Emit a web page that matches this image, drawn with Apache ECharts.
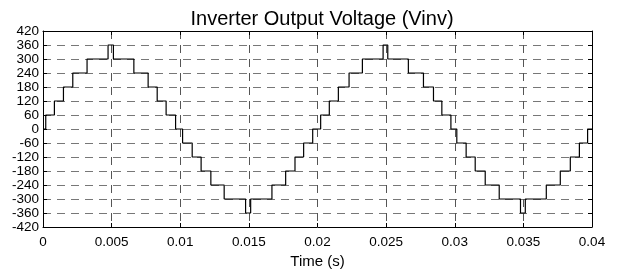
<!DOCTYPE html>
<html>
<head>
<meta charset="utf-8">
<script src="https://cdn.jsdelivr.net/npm/echarts@6/dist/echarts.min.js"></script>
<style>
  html, body { margin: 0; padding: 0; background: #fff; }
  #chart { width: 617px; height: 274px; }
</style>
</head>
<body>
<div id="chart"></div>
<script>
// switching instants (s) and the level held from each instant (V)
const times = [
  0, 0.0002, 0.00083, 0.00149, 0.00217, 0.00321, 0.00474, 0.00513,
  0.00662, 0.00766, 0.00832, 0.00897, 0.00966,
  0.01017, 0.01087, 0.01152, 0.01223, 0.0132, 0.01476, 0.01513,
  0.01668, 0.01768, 0.01836, 0.01899, 0.01965,
  0.02023, 0.02086, 0.02152, 0.0223, 0.02327, 0.02478, 0.02512,
  0.02662, 0.02772, 0.02845, 0.02906, 0.02972,
  0.03015, 0.03083, 0.03149, 0.03222, 0.03324, 0.03479, 0.03514,
  0.03667, 0.03769, 0.03842, 0.03908, 0.03968, 0.04
];
const vinv = [
  0, 60, 120, 180, 240, 300, 360, 300,
  240, 180, 120, 60, 0,
  -60, -120, -180, -240, -300, -360, -300,
  -240, -180, -120, -60, 0,
  60, 120, 180, 240, 300, 360, 300,
  240, 180, 120, 60, 0,
  -60, -120, -180, -240, -300, -360, -300,
  -240, -180, -120, -60, 0, 0
];
const yTicks = [-420, 420, 60];   // min, max, step
const xTicks = [0, 0.04, 0.005];

const chart = echarts.init(document.getElementById('chart'));
const font = 'Liberation Sans, Arial, sans-serif';

const frameTick = { show: true, inside: true, length: 4, lineStyle: { color: '#000' } };
const frameLine = { show: true, onZero: false, lineStyle: { color: '#000', width: 1 } };

chart.setOption({
  animation: false,
  title: {
    text: 'Inverter Output Voltage (Vinv)',
    left: 317, top: 4, textAlign: 'center',
    textStyle: { fontFamily: font, fontSize: 20, fontWeight: 'normal', color: '#000' }
  },
  grid: { left: 43, right: 25, top: 31, bottom: 43 },
  xAxis: [{
    type: 'value',
    min: xTicks[0], max: xTicks[1], interval: xTicks[2],
    name: 'Time (s)', nameLocation: 'middle', nameGap: 27,
    nameTextStyle: { fontFamily: font, fontSize: 15, color: '#000' },
    axisLine: frameLine,
    axisTick: frameTick,
    axisLabel: {
      fontFamily: font, fontSize: 13.5, color: '#000', margin: 8,
      formatter: v => String(+v.toFixed(3))
    },
    splitLine: { show: true, lineStyle: { color: '#555', type: [8, 6], width: 1 } }
  }, {
    type: 'value', position: 'top',
    min: xTicks[0], max: xTicks[1], interval: xTicks[2],
    axisLine: frameLine,
    axisTick: frameTick, axisLabel: { show: false }, splitLine: { show: false }
  }],
  yAxis: [{
    type: 'value',
    min: yTicks[0], max: yTicks[1], interval: yTicks[2],
    axisLine: frameLine,
    axisTick: frameTick,
    axisLabel: { fontFamily: font, fontSize: 13.5, color: '#000', margin: 4 },
    splitLine: { show: true, lineStyle: { color: '#777', type: [8, 6], width: 1 } }
  }, {
    type: 'value', position: 'right',
    min: yTicks[0], max: yTicks[1], interval: yTicks[2],
    axisLine: frameLine,
    axisTick: frameTick, axisLabel: { show: false }, splitLine: { show: false }
  }],
  series: [{
    type: 'line',
    step: 'end',
    showSymbol: false,
    data: times.map((t, i) => [t, vinv[i]]),
    lineStyle: { color: '#000', width: 1.2 },
    z: 5
  }]
});
</script>
</body>
</html>
